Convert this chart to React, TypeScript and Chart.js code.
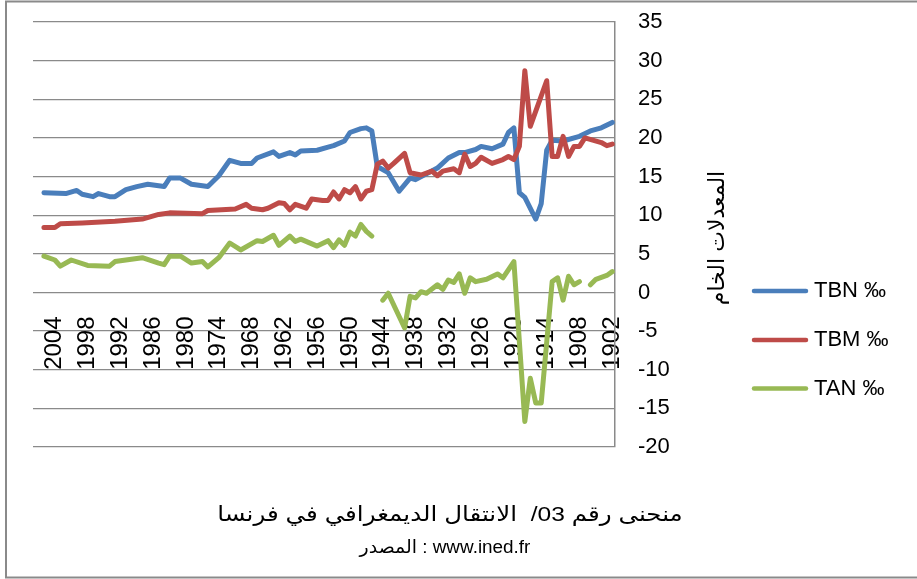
import React, { useEffect, useRef } from 'react';
import { Chart, registerables } from 'chart.js';

Chart.register(...registerables);

// ---- data ----
const seriesLabels = ['TBN ‰', 'TBM ‰', 'TAN ‰'];

const tbnYears = [2006, 2002, 2000, 1999, 1997, 1996, 1994, 1993, 1991, 1989, 1987, 1984, 1983, 1981, 1979, 1976, 1974, 1972, 1970, 1968, 1967, 1964, 1963, 1961, 1960, 1959, 1956, 1954, 1953, 1951, 1950, 1948, 1947, 1946, 1945, 1943, 1941, 1939, 1938, 1934, 1932, 1930, 1929, 1927, 1926, 1924, 1922, 1921, 1920, 1919, 1918, 1916, 1915, 1914, 1913, 1911, 1908, 1906, 1904, 1902];
const tbnValues = [12.9, 12.8, 13.2, 12.7, 12.4, 12.8, 12.4, 12.4, 13.3, 13.7, 14.0, 13.7, 14.8, 14.8, 14.0, 13.7, 15.1, 17.1, 16.7, 16.7, 17.4, 18.2, 17.6, 18.1, 17.8, 18.3, 18.4, 18.8, 19.0, 19.6, 20.7, 21.2, 21.3, 20.9, 16.3, 15.5, 13.1, 14.8, 14.6, 16.1, 17.4, 18.1, 18.1, 18.5, 18.9, 18.6, 19.2, 20.7, 21.3, 12.9, 12.3, 9.5, 11.5, 18.4, 19.7, 19.6, 20.2, 20.9, 21.3, 22.0];

const tbmYears = [2006, 2004, 2003, 1999, 1993, 1988, 1985, 1983, 1977, 1976, 1971, 1969, 1968, 1966, 1965, 1963, 1962, 1961, 1960, 1958, 1957, 1955, 1954, 1953, 1952, 1951, 1950, 1949, 1948, 1947, 1946, 1945, 1944, 1943, 1942, 1940, 1939, 1937, 1935, 1934, 1933, 1931, 1930, 1929, 1928, 1927, 1926, 1924, 1922, 1921, 1920, 1919, 1918, 1917, 1914, 1913, 1912, 1911, 1910, 1909, 1908, 1907, 1904, 1903, 1902];
const tbmValues = [8.4, 8.4, 8.9, 9.0, 9.2, 9.5, 10.1, 10.3, 10.2, 10.6, 10.8, 11.4, 10.9, 10.7, 10.9, 11.6, 11.5, 10.7, 11.4, 10.9, 12.1, 11.9, 11.9, 13.0, 12.1, 13.3, 12.9, 13.7, 12.1, 13.1, 13.3, 16.6, 17.0, 16.1, 16.7, 18.0, 15.5, 15.2, 15.7, 15.1, 15.7, 16.0, 15.5, 17.9, 16.3, 16.7, 17.5, 16.7, 17.2, 17.6, 17.2, 18.9, 28.7, 21.5, 27.4, 17.6, 17.6, 20.2, 17.6, 18.9, 18.9, 20.0, 19.4, 19.0, 19.2];

const tanYears = [2006, 2004, 2003, 2001, 1998, 1994, 1993, 1988, 1985, 1984, 1983, 1981, 1979, 1977, 1976, 1974, 1972, 1970, 1967, 1966, 1964, 1963, 1961, 1960, 1959, 1956, 1954, 1953, 1952, 1951, 1950, 1949, 1948, 1947, 1946, 1945, 1944, 1943, 1940, 1939, 1938, 1937, 1936, 1934, 1933, 1932, 1931, 1930, 1929, 1928, 1927, 1925, 1923, 1922, 1920, 1918, 1917, 1916, 1915, 1913, 1912, 1911, 1910, 1909, 1908, 1907, 1906, 1905, 1903, 1902];
const tanValues = [4.7, 4.2, 3.4, 4.2, 3.5, 3.4, 4.0, 4.5, 3.8, 3.6, 4.7, 4.7, 3.8, 4.0, 3.3, 4.5, 6.4, 5.5, 6.7, 6.6, 7.4, 6.1, 7.3, 6.6, 6.9, 6.0, 6.7, 5.8, 6.8, 6.1, 7.8, 7.3, 8.8, 7.9, 7.3, null, -1.0, -0.1, -4.6, -0.5, -0.7, 0.1, -0.1, 1.0, 0.4, 1.6, 1.3, 2.4, -0.1, 1.9, 1.4, 1.7, 2.4, 1.9, 4.0, -16.7, -11.1, -14.3, -14.3, 1.4, 1.9, -1.0, 2.1, 1.0, 1.4, null, 1.0, 1.7, 2.2, 2.7];

const xTickYears = [2004, 1998, 1992, 1986, 1980, 1974, 1968, 1962, 1956, 1950, 1944, 1938, 1932, 1926, 1920, 1914, 1908, 1902];

const yAxisTitle = 'المعدلات الخام';
const titleLine1 = 'منحنى رقم 03/  الانتقال الديمغرافي في فرنسا';
const titleLine2 = 'المصدر : www.ined.fr';

const colors = ['#4A7EBB', '#BE4B48', '#98B954'];
const FONT = '"Liberation Sans", Arial, "DejaVu Sans", sans-serif';

function toPoints(xs: number[], ys: (number | null)[]) {
  return xs.map((x, i) => ({ x, y: ys[i] }));
}

function drawCentered(ctx: CanvasRenderingContext2D, text: string, cx: number, cy: number, sx: number) {
  ctx.save();
  ctx.translate(cx, cy);
  ctx.scale(sx, 1);
  ctx.textAlign = 'center';
  ctx.textBaseline = 'middle';
  ctx.fillText(text, 0, 0);
  ctx.restore();
}

const decorPlugin = {
  id: 'decor',
  afterDraw(chart: any) {
    const ctx: CanvasRenderingContext2D = chart.ctx;
    ctx.save();
    // outer frame
    ctx.strokeStyle = '#8a8a8a';
    ctx.lineWidth = 2;
    ctx.strokeRect(6, 1.5, 1000, 576);

    // y axis title (rotated)
    ctx.fillStyle = '#000';
    ctx.font = `22px ${FONT}`;
    ctx.save();
    ctx.translate(718, 238);
    ctx.rotate(-Math.PI / 2);
    ctx.textAlign = 'center';
    ctx.textBaseline = 'middle';
    ctx.fillText(yAxisTitle, 0, 0);
    ctx.restore();

    // legend
    const legendY = [291, 340, 388.5];
    chart.data.datasets.forEach((ds: any, i: number) => {
      ctx.strokeStyle = ds.borderColor;
      ctx.lineWidth = 4.5;
      ctx.lineCap = 'round';
      ctx.beginPath();
      ctx.moveTo(754, legendY[i]);
      ctx.lineTo(806, legendY[i]);
      ctx.stroke();
      ctx.fillStyle = '#000';
      ctx.font = `22px ${FONT}`;
      ctx.textAlign = 'left';
      ctx.textBaseline = 'middle';
      ctx.fillText(ds.label, 814, legendY[i]);
    });

    // bottom title
    ctx.fillStyle = '#000';
    ctx.font = `21px ${FONT}`;
    drawCentered(ctx, titleLine1, 450, 515, 1.17);
    ctx.font = `18px ${FONT}`;
    drawCentered(ctx, titleLine2, 445, 548, 1.05);
    ctx.restore();
  },
};

export default function App() {
  const ref = useRef<HTMLCanvasElement>(null);
  useEffect(() => {
    const values = [tbnValues, tbmValues, tanValues];
    const years = [tbnYears, tbmYears, tanYears];
    const chart = new Chart(ref.current as HTMLCanvasElement, {
      type: 'line',
      data: {
        datasets: seriesLabels.map((label, i) => ({
          label,
          data: toPoints(years[i], values[i]),
          borderColor: colors[i],
          backgroundColor: colors[i],
          borderWidth: 5,
          pointRadius: 0,
          tension: 0,
          spanGaps: false,
          borderJoinStyle: 'round' as const,
          borderCapStyle: 'round' as const,
          order: 3 - i,
        })),
      },
      options: {
        animation: false,
        responsive: false,
        devicePixelRatio: 1,
        layout: { padding: { left: 33, top: 22, right: 222, bottom: 132 } },
        plugins: {
          legend: { display: false },
          title: { display: false },
          tooltip: { enabled: false },
        },
        scales: {
          x: {
            type: 'linear',
            reverse: true,
            min: 1901.5,
            max: 2008,
            bounds: 'data',
            position: { y: 0 } as any,
            grid: { display: false, drawTicks: false, tickLength: 0 },
            border: { display: false },
            afterBuildTicks: (scale: any) => {
              scale.ticks = xTickYears.map((value) => ({ value }));
            },
            ticks: {
              autoSkip: false,
              minRotation: 90,
              maxRotation: 90,
              padding: 24,
              color: '#000',
              font: { family: FONT, size: 24 },
              callback: (v: any) => String(v),
            },
          },
          y: {
            type: 'linear',
            position: 'right',
            min: -20,
            max: 35,
            afterFit: (scale: any) => {
              scale.width = 80;
            },
            grid: { color: '#8a8a8a', lineWidth: 1.2, drawTicks: true, tickLength: 23, tickColor: 'rgba(0,0,0,0)' },
            border: { display: true, color: '#8a8a8a', width: 1.5 },
            ticks: {
              stepSize: 5,
              padding: 0,
              color: '#000',
              font: { family: FONT, size: 22 },
            },
          },
        },
      },
      plugins: [decorPlugin],
    });
    return () => chart.destroy();
  }, []);
  return (
    <div style={{ position: 'absolute', left: 0, top: 0, width: 917, height: 579, background: '#fff' }}>
      <canvas ref={ref} width={917} height={579} style={{ display: 'block' }} />
    </div>
  );
}
